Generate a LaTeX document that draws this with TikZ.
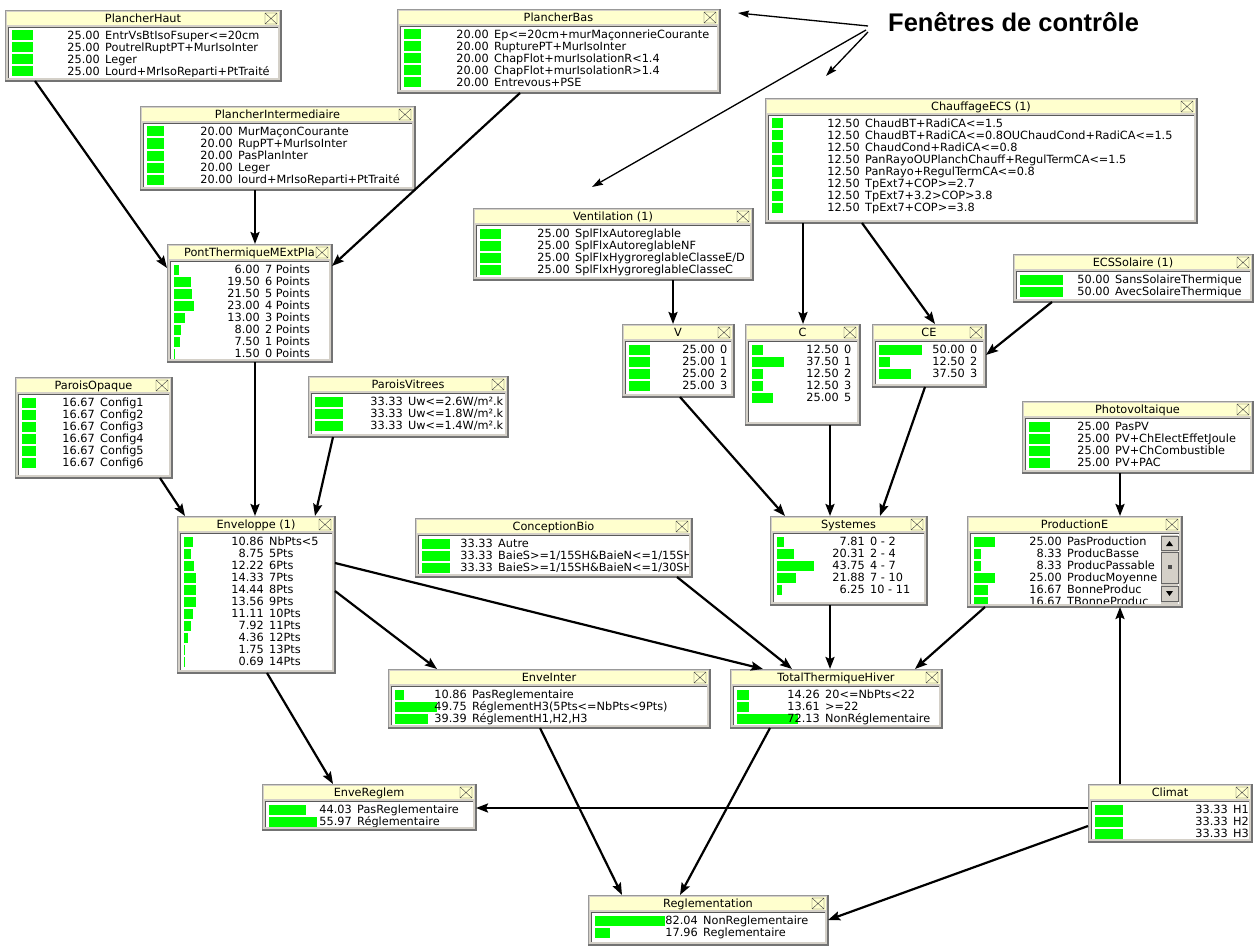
\documentclass[tikz,border=0pt]{standalone}
\usepackage{fontspec}
\setmainfont{DejaVu Sans}
\newfontfamily\notefont{Liberation Sans}
\usetikzlibrary{arrows.meta}

\definecolor{framegray}{RGB}{212,208,200}
\definecolor{titleyellow}{RGB}{255,255,206}
\definecolor{bargreen}{RGB}{0,255,0}
\newcommand{\boxfont}{\fontsize{11.3}{12}\selectfont}
\newlength{\titlew}

% Netica-like node window
% #1 name, #2-#5 left/top/right/bottom, #6 title, #7 number column, #8 states
\newcommand{\netbox}[8]{%
  \node[boxframe, anchor=north west, minimum width={(#4-#2)*1pt},
        minimum height={(#5-#3)*1pt}] (#1) at (#2,#3) {};
  \draw[black!55, line width=1.2pt] (#2,#5) -- (#4,#5) -- (#4,#3);
  \fill[titleyellow] (#2+2,#3+2) rectangle (#4-2,#3+15);
  \draw[black!75] (#4-16,#3+3) rectangle (#4-4,#3+14)
    (#4-16,#3+3) -- (#4-4,#3+14) (#4-16,#3+14) -- (#4-4,#3+3);
  \settowidth{\titlew}{\boxfont #6}%
  \pgfmathsetmacro\tx{min((#2+#4)/2, #4-19-0.5*\titlew)}%
  \node[boxtext, anchor=base] at (\tx,#3+12.6) {#6};
  \fill[white] (#2+3,#3+17) rectangle (#4-3,#5-3);
  \draw[black!65] (#2+3,#5-3) -- (#2+3,#3+17) -- (#4-3,#3+17);
  \begin{scope}
    \clip (#2+4,#3+18) rectangle (#4-4,#5-4);
    \foreach \p/\l [count=\i from 0] in {#8} {
      \pgfmathsetmacro\yy{#3+25.5+12*\i}
      \fill[bargreen] (#2+7,\yy-5) rectangle ++(0.85*\p,10);
      \node[boxtext, anchor=base east] at (#2+#7,\yy+4.1) {\p};
      \node[boxtext, anchor=base west] at (#2+#7+5,\yy+4.1) {\l};
    }
  \end{scope}
}

\begin{document}
\begin{tikzpicture}[
    x=1pt, y=-1pt,
    boxframe/.style={draw=black!40, fill=framegray, inner sep=0pt, outer sep=0pt, line width=0.6pt},
    boxtext/.style={font=\boxfont, inner sep=0pt, text=black},
    notetext/.style={font=\notefont\bfseries\fontsize{25.5}{28}\selectfont, inner sep=0pt},
    arr/.style={-{Stealth[length=12pt, width=9pt, inset=2pt]}, line width=2.2pt},
    note/.style={-{Stealth[length=11pt, width=7pt, inset=1.5pt]}, line width=1.3pt}
]
\useasboundingbox (0,0) rectangle (1255,947);

% top row: floors and heating
\netbox{PH}{5}{10}{281}{81}{PlancherHaut}{95}{25.00/EntrVsBtIsoFsuper<=20cm,
  25.00/PoutrelRuptPT+MurIsoInter, 25.00/Leger, 25.00/Lourd+MrIsoReparti+PtTraité}
\netbox{PB}{397}{9}{720}{93}{PlancherBas}{92}{20.00/Ep<=20cm+murMaçonnerieCourante,
  20.00/RupturePT+MurIsoInter, 20.00/ChapFlot+murIsolationR<1.4,
  20.00/ChapFlot+murIsolationR>1.4, 20.00/Entrevous+PSE}
\netbox{PI}{140}{106}{415}{190}{PlancherIntermediaire}{93}{20.00/MurMaçonCourante,
  20.00/RupPT+MurIsoInter, 20.00/PasPlanInter, 20.00/Leger, 20.00/lourd+MrIsoReparti+PtTraité}
\netbox{CH}{765}{98}{1197}{223}{ChauffageECS (1)}{95}{12.50/ChaudBT+RadiCA<=1.5,
  12.50/ChaudBT+RadiCA<=0.8OUChaudCond+RadiCA<=1.5, 12.50/ChaudCond+RadiCA<=0.8,
  12.50/PanRayoOUPlanchChauff+RegulTermCA<=1.5, 12.50/PanRayo+RegulTermCA<=0.8,
  12.50/TpExt7+COP>=2.7, 12.50/TpExt7+3.2>COP>3.8, 12.50/TpExt7+COP>=3.8}

% systems
\netbox{VE}{473}{208}{753}{280}{Ventilation (1)}{97}{25.00/SplFlxAutoreglable,
  25.00/SplFlxAutoreglableNF, 25.00/{SplFlxHygroreglableClasseE/D}, 25.00/SplFlxHygroreglableClasseC}
\netbox{PT}{167}{244}{332}{362}{PontThermiqueMExtPla}{93}{6.00/7 Points, 19.50/6 Points,
  21.50/5 Points, 23.00/4 Points, 13.00/3 Points, 8.00/2 Points, 7.50/1 Points, 1.50/0 Points}
\netbox{ES}{1013}{254}{1253}{302}{ECSSolaire (1)}{97}{50.00/SansSolaireThermique,
  50.00/AvecSolaireThermique}
\netbox{V}{622}{324}{734}{397}{V}{93}{25.00/0, 25.00/1, 25.00/2, 25.00/3}
\netbox{C}{745}{324}{860}{425}{C}{94}{12.50/0, 37.50/1, 12.50/2, 12.50/3, 25.00/5}
\netbox{CE}{872}{324}{986}{387}{CE}{93}{50.00/0, 12.50/2, 37.50/3}
\netbox{PV}{1022}{401}{1253}{473}{Photovoltaique}{88}{25.00/PasPV,
  25.00/PV+ChElectEffetJoule, 25.00/PV+ChCombustible, 25.00/PV+PAC}

% walls and envelope
\netbox{PO}{15}{377}{172}{478}{ParoisOpaque}{80}{16.67/Config1, 16.67/Config2,
  16.67/Config3, 16.67/Config4, 16.67/Config5, 16.67/Config6}
\netbox{PW}{308}{376}{508}{437}{ParoisVitrees}{95}{33.33/{Uw<=2.6W/m².k},
  33.33/{Uw<=1.8W/m².k}, 33.33/{Uw<=1.4W/m².k}}
\netbox{EN}{177}{516}{335}{673}{Enveloppe (1)}{87}{10.86/NbPts<5, 8.75/5Pts, 12.22/6Pts,
  14.33/7Pts, 14.44/8Pts, 13.56/9Pts, 11.11/10Pts, 7.92/11Pts, 4.36/12Pts, 1.75/13Pts, 0.69/14Pts}
\netbox{CB}{415}{518}{692}{577}{ConceptionBio}{78}{33.33/Autre,
  33.33/{BaieS>=1/15SH\&BaieN<=1/15SH}, 33.33/{BaieS>=1/15SH\&BaieN<=1/30SH}}
\netbox{SY}{770}{516}{927}{605}{Systemes}{95}{7.81/0 - 2, 20.31/2 - 4, 43.75/4 - 7,
  21.88/7 - 10, 6.25/10 - 11}
\netbox{PE}{967}{516}{1182}{607}{ProductionE}{95}{25.00/PasProduction, 8.33/ProducBasse,
  8.33/ProducPassable, 25.00/ProducMoyenne, 16.67/BonneProduc, 16.67/TBonneProduc}
% scroll bar of ProductionE
\fill[framegray] (1161,535) rectangle (1178,604);
\draw[black!60, fill=framegray] (1161,536) rectangle (1178,550);
\fill[black] (1166,546) -- (1173,546) -- (1169.5,541) -- cycle;
\draw[black!60, fill=framegray] (1161,552) rectangle (1178,583);
\fill[black!70] (1167.5,565) rectangle (1171.5,569);
\draw[black!60, fill=framegray] (1161,586) rectangle (1178,601);
\fill[black] (1166,591) -- (1173,591) -- (1169.5,596) -- cycle;

% regulation
\netbox{EI}{388}{669}{710}{728}{EnveInter}{79}{10.86/PasReglementaire,
  49.75/RéglementH3(5Pts<=NbPts<9Pts), 39.39/{RéglementH1,H2,H3}}
\netbox{TT}{730}{669}{942}{728}{TotalThermiqueHiver}{90}{14.26/20<=NbPts<22,
  13.61/>=22, 72.13/NonRéglementaire}
\netbox{ER}{262}{784}{476}{830}{EnveReglem}{90}{44.03/PasReglementaire, 55.97/Réglementaire}
\netbox{CL}{1088}{784}{1252}{842}{Climat}{140}{33.33/H1, 33.33/H2, 33.33/H3}
\netbox{RG}{588}{895}{828}{945}{Reglementation}{110}{82.04/NonReglementaire, 17.96/Reglementaire}

% links
\draw[arr] ([xshift=30pt]PH.south west) -- ([yshift=-24pt]PT.north west);
\draw[arr] ([xshift=115pt]PI.south west) -- ([xshift=88pt]PT.north west);
\draw[arr] ([xshift=123pt]PB.south west) -- ([yshift=-22pt]PT.north east);
\draw[arr] ([xshift=88pt]PT.south west) -- ([xshift=78pt]EN.north west);
\draw[arr] ([xshift=145pt]PO.south west) -- ([xshift=8pt]EN.north west);
\draw[arr] ([xshift=25pt]PW.south west) -- ([xshift=138pt]EN.north west);
\draw[arr] ([yshift=-75pt]EN.north east) -- ([xshift=49pt]EI.north west);
\draw[arr] ([yshift=-47pt]EN.north east) -- ([xshift=33pt]TT.north west);
\draw[arr] ([xshift=90pt]EN.south west) -- ([xshift=71pt]ER.north west);
\draw[arr] ([xshift=262pt]CB.south west) -- ([xshift=62pt]TT.north west);
\draw[arr] ([xshift=60pt]SY.south west) -- ([xshift=100pt]TT.north west);
\draw[arr] ([xshift=18pt]PE.south west) -- ([xshift=185pt]TT.north west);
\draw[arr] ([xshift=98pt]PV.south west) -- ([xshift=153pt]PE.north west);
\draw[arr] ([xshift=32pt]CL.north west) -- ([xshift=153pt]PE.south west);
\draw[arr] ([yshift=-24pt]CL.north west) -- ([yshift=-24pt]ER.north east);
\draw[arr] ([yshift=-42pt]CL.north west) -- ([yshift=-25pt]RG.north east);
\draw[arr] ([xshift=152pt]EI.south west) -- ([xshift=34pt]RG.north west);
\draw[arr] ([xshift=40pt]TT.south west) -- ([xshift=92pt]RG.north west);
\draw[arr] ([xshift=200pt]VE.south west) -- ([xshift=51pt]V.north west);
\draw[arr] ([xshift=38pt]CH.south west) -- ([xshift=58pt]C.north west);
\draw[arr] ([xshift=97pt]CH.south west) -- ([xshift=63pt]CE.north west);
\draw[arr] ([xshift=39pt]ES.south west) -- ([yshift=-31pt]CE.north east);
\draw[arr] ([xshift=58pt]V.south west) -- ([xshift=15pt]SY.north west);
\draw[arr] ([xshift=85pt]C.south west) -- ([xshift=60pt]SY.north west);
\draw[arr] ([xshift=53pt]CE.south west) -- ([xshift=110pt]SY.north west);

% control windows note
\node[notetext, anchor=base west] (fen) at (888,32) {Fenêtres de contrôle};
\coordinate (toPB) at (738,13);
\coordinate (toVE) at (592,187);
\coordinate (toCH) at (826,76);
\draw[note] ([xshift=-20pt,yshift=6pt]fen.base west) -- (toPB);
\draw[note] ([xshift=-22pt,yshift=2pt]fen.base west) -- (toVE);
\draw[note] ([xshift=-20pt,yshift=0pt]fen.base west) -- (toCH);
\end{tikzpicture}
\end{document}
